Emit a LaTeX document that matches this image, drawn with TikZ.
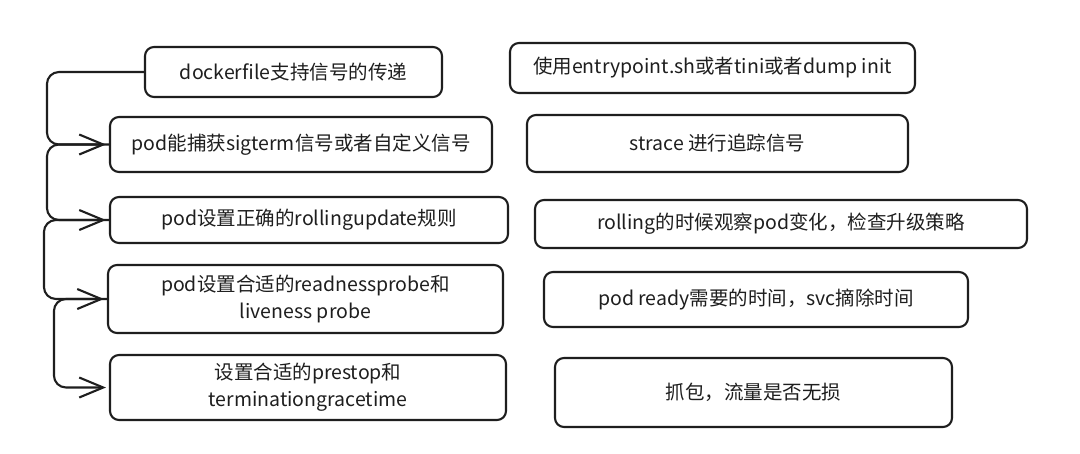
\documentclass[tikz,border=0pt]{standalone}
\usepackage{fontspec}
\setmainfont{Noto Sans CJK SC}
\usetikzlibrary{arrows.meta}
\definecolor{ink}{HTML}{1E1E1E}
\tikzset{
  box/.style={draw=ink, line width=2.1pt, rounded corners=9pt, align=center,
    inner sep=0pt, font=\fontsize{19.5}{27}\selectfont, text=ink},
  conn/.style={draw=ink, line width=2.1pt, rounded corners=12pt,
    -{Straight Barb[length=24pt,width=20pt,line width=2.1pt]}},
}
\newcommand{\bx}[6]{% name, x1, y1, x2, y2, text
  \node[box, minimum width=#4-#2, minimum height=#5-#3] (#1) at ({(#2+#4)/2},{(#3+#5)/2}) {#6};}
\begin{document}
\begin{tikzpicture}[x=1pt,y=-1pt]
\useasboundingbox (0,0) rectangle (1080,453);
\fill[white] (0,0) rectangle (1080,453);
\bx{L1}{145}{47}{442}{97}{dockerfile支持信号的传递}
\bx{L2}{110}{117}{492}{172}{pod能捕获sigterm信号或者自定义信号}
\bx{L3}{110}{197}{508}{243}{pod设置正确的rollingupdate规则}
\bx{L4}{108}{265}{503}{333}{pod设置合适的readnessprobe和\\liveness probe}
\bx{L5}{110}{355}{506}{420}{设置合适的prestop和\\terminationgracetime}
\bx{R1}{510}{43}{915}{93}{使用entrypoint.sh或者tini或者dump init}
\bx{R2}{527}{115}{908}{172}{strace 进行追踪信号}
\bx{R3}{535}{200}{1027}{248}{rolling的时候观察pod变化，检查升级策略}
\bx{R4}{544}{272}{968}{327}{pod ready需要的时间，svc摘除时间}
\bx{R5}{555}{358}{952}{427}{抓包，流量是否无损}
\draw[conn] (L1.west) -- ([xshift=-97pt]L1.west) |- ([xshift=-3pt]L2.west);
\draw[conn] (L2.west) -- ([xshift=-62pt]L2.west) |- ([xshift=-3pt]L3.west);
\draw[conn] (L3.west) -- ([xshift=-65pt]L3.west) |- ([xshift=-3pt]L4.west);
\draw[conn] (L4.west) -- ([xshift=-53pt]L4.west) |- ([xshift=-3pt]L5.west);
\end{tikzpicture}
\end{document}
